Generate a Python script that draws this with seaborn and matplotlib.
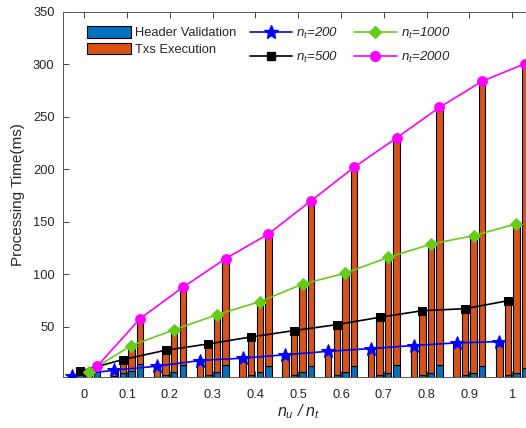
import numpy as np
import pandas as pd
import matplotlib
matplotlib.use("Agg")
import matplotlib.pyplot as plt
from matplotlib.patches import Patch
from matplotlib.lines import Line2D
import seaborn as sns

# ---------------- data ----------------
ratio = [0.0, 0.1, 0.2, 0.3, 0.4, 0.5, 0.6, 0.7, 0.8, 0.9, 1.0]
xtick_labels = ["0", "0.1", "0.2", "0.3", "0.4", "0.5", "0.6", "0.7", "0.8", "0.9", "1"]
yticks = [50, 100, 150, 200, 250, 300, 350]
nt_labels = ["200", "500", "1000", "2000"]

total_200 = [3.4, 8.5, 12.3, 17.7, 19.9, 23.2, 26.5, 29.1, 32.0, 34.5, 35.7]
total_500 = [7.5, 18.6, 27.5, 33.5, 40.2, 46.2, 51.9, 58.9, 65.2, 67.1, 74.7]
total_1000 = [7.2, 32.0, 47.0, 61.4, 73.8, 90.5, 101.0, 116.0, 128.6, 136.8, 148.0]
total_2000 = [12.3, 57.6, 87.5, 114.8, 138.3, 170.0, 201.8, 230.0, 259.0, 284.0, 300.7]

header_200 = [2.5, 2.5, 2.0, 2.0, 2.0, 2.0, 2.0, 2.0, 2.0, 2.0, 2.0]
header_500 = [5.0, 6.0, 4.0, 3.5, 4.0, 3.5, 3.5, 3.5, 3.5, 3.5, 3.5]
header_1000 = [5.0, 8.0, 6.5, 6.5, 7.0, 6.5, 6.5, 6.0, 6.0, 6.0, 6.0]
header_2000 = [8.0, 14.0, 13.5, 13.0, 12.0, 12.0, 12.0, 13.0, 13.0, 12.0, 11.0]

totals = [total_200, total_500, total_1000, total_2000]
headers = [header_200, header_500, header_1000, header_2000]

# ---------------- style ----------------
sns.set_style("ticks")
plt.rcParams["font.family"] = ["Liberation Sans", "DejaVu Sans"]
plt.rcParams["mathtext.fontset"] = "custom"
plt.rcParams["mathtext.rm"] = "Liberation Sans"
plt.rcParams["mathtext.it"] = "Liberation Sans:italic"

grey = "#262626"
c_header = "#0072BD"
c_exec = "#D95319"
line_colors = ["#0000FF", "#000000", "#66CC19", "#FF00FF"]
line_markers = ["*", "s", "D", "o"]
marker_sizes = [10, 6, 6, 7]

fig = plt.figure(figsize=(5.26, 4.28), dpi=100)
ax = fig.add_axes([0.1198, 0.118, 0.8945, 0.854])

group_step = 0.02
bar_w = 0.015
offsets = [(j - 1.5) * group_step for j in range(4)]

# stacked bars per series
for j in range(4):
    xs = np.array(ratio) + offsets[j]
    hv = np.array(headers[j])
    ex = np.array(totals[j]) - hv
    ax.bar(xs, hv, width=bar_w, color=c_header, edgecolor="black", linewidth=0.8, zorder=2)
    ax.bar(xs, ex, bottom=hv, width=bar_w, color=c_exec, edgecolor="black", linewidth=0.8, zorder=2)

# lines
for j in range(4):
    df = pd.DataFrame({"x": np.array(ratio) + offsets[j], "y": totals[j]})
    sns.lineplot(data=df, x="x", y="y", ax=ax, color=line_colors[j], marker=line_markers[j],
                 markersize=marker_sizes[j], markeredgecolor=line_colors[j], linewidth=1.2,
                 zorder=3)

ax.set_xlim(-0.05, 1.05)
ax.set_ylim(1.5, 350)
ax.set_xticks(ratio)
ax.set_xticklabels(xtick_labels)
ax.set_yticks(yticks)
ax.tick_params(direction="in", length=4, width=0.6, colors=grey, labelsize=9.3,
               top=True, right=True)
ax.tick_params(axis="x", pad=8)
ax.tick_params(axis="y", pad=6)
for s in ax.spines.values():
    s.set_visible(True)
    s.set_color("#555555")
    s.set_linewidth(0.7)

ax.set_xlabel(r"$n_u$ / $n_t$", fontsize=11.5, color=grey, style="italic", labelpad=1)
ax.set_ylabel("Processing Time(ms)", fontsize=11, color=grey, labelpad=6)

# legends
bar_handles = [Patch(facecolor=c_header, edgecolor="black", linewidth=0.8),
               Patch(facecolor=c_exec, edgecolor="black", linewidth=0.8)]
leg1 = ax.legend(bar_handles, ["Header Validation", "Txs Execution"],
                 loc="upper left", bbox_to_anchor=(0.052, 0.962), frameon=False,
                 fontsize=9.3, handlelength=3.4, handleheight=1.05, handletextpad=0.3,
                 labelspacing=0.25, borderpad=0, borderaxespad=0)
ax.add_artist(leg1)

line_handles = [Line2D([0], [0], color=line_colors[j], marker=line_markers[j],
                       markersize=marker_sizes[j], linewidth=1.2) for j in range(4)]
line_labels = [r"$n_t$=" + n for n in nt_labels]
leg2 = ax.legend(line_handles, line_labels, loc="upper left", bbox_to_anchor=(0.398, 0.962),
                 ncol=2, frameon=False, prop={"size": 9.5, "style": "italic"},
                 handlelength=3.2, handletextpad=0.3, columnspacing=1.2,
                 labelspacing=0.65, borderpad=0, borderaxespad=0)

fig.savefig("out.png", dpi=100)
